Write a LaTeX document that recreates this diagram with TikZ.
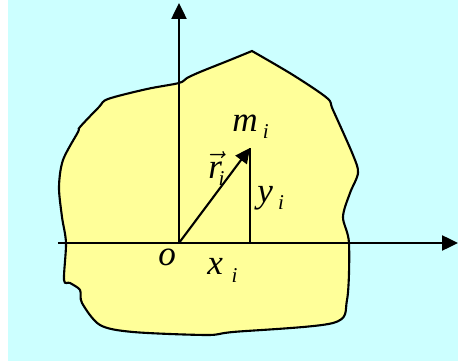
\documentclass[tikz,border=0pt]{standalone}
\usepackage{amsmath}
\usepackage{fontspec}
\setmainfont{Liberation Serif}
\usetikzlibrary{arrows.meta}
\definecolor{SkyBg}{HTML}{CCFFFF}
\definecolor{BodyFill}{HTML}{FFFF99}
\tikzset{
  axis/.style={line width=1.2pt,-{Triangle[length=9pt,width=8.5pt]}},
  lbl/.style={font=\fontsize{20}{22}\selectfont\itshape,inner sep=0pt,anchor=base west},
}
\newcommand{\sub}[1]{\hspace{0.15em}\raisebox{-0.45ex}{\fontsize{12}{13}\selectfont #1}}
\begin{document}
\begin{tikzpicture}[x=0.02cm,y=-0.02cm]
  \useasboundingbox (0,0) rectangle (458,362);
  \fill[SkyBg] (8,0) rectangle (458,361);
  % body
  \draw[line width=1.2pt,fill=BodyFill] plot[smooth,tension=0.5] coordinates {
    (252,51) (230,60) (200,72) (187,78) (179,83) (147,89) (108,99) (99,107)
    (80,127) (78,132) (63,160) (59,187) (62,217) (66,243) (64,280) (70,283)
    (80,290) (82,303) (100,325) (133,332) (207,335) (233,332) (333,323)
    (347,300) (349,243) (343,217) (350,193) (358,173) (353,155) (333,110)
    (327,98) (293,75) (252,51)} -- cycle;
  % axes
  \coordinate (o) at (179,243);
  \coordinate (xstart) at (58,243);
  \coordinate (xend) at (458,243);
  \coordinate (yend) at (179,3);
  \coordinate (m) at (250,148);
  \coordinate (foot) at (250,243);
  \draw[axis] (xstart) -- (xend);
  \draw[axis] (o) -- (yend);
  \draw[line width=1.2pt] (foot) -- (m);
  \draw[line width=1.2pt,-{Triangle[length=8.5pt,width=8pt]}] (o) -- (m);
  % labels
  \node[lbl] (olbl) at (158,265) {o};
  \node[lbl] (xlbl) at (207,275) {x\hspace{0.1em}\sub{i}};
  \node[lbl] (ylbl) at (257,202) {y\sub{i}};
  \node[lbl] (mlbl) at (232,131) {m\sub{i}};
  \node[lbl] (rlbl) at (208,178) {$\vec{\text{\itshape r}}$\hspace{-0.25em}\sub{i}};
\end{tikzpicture}
\end{document}
